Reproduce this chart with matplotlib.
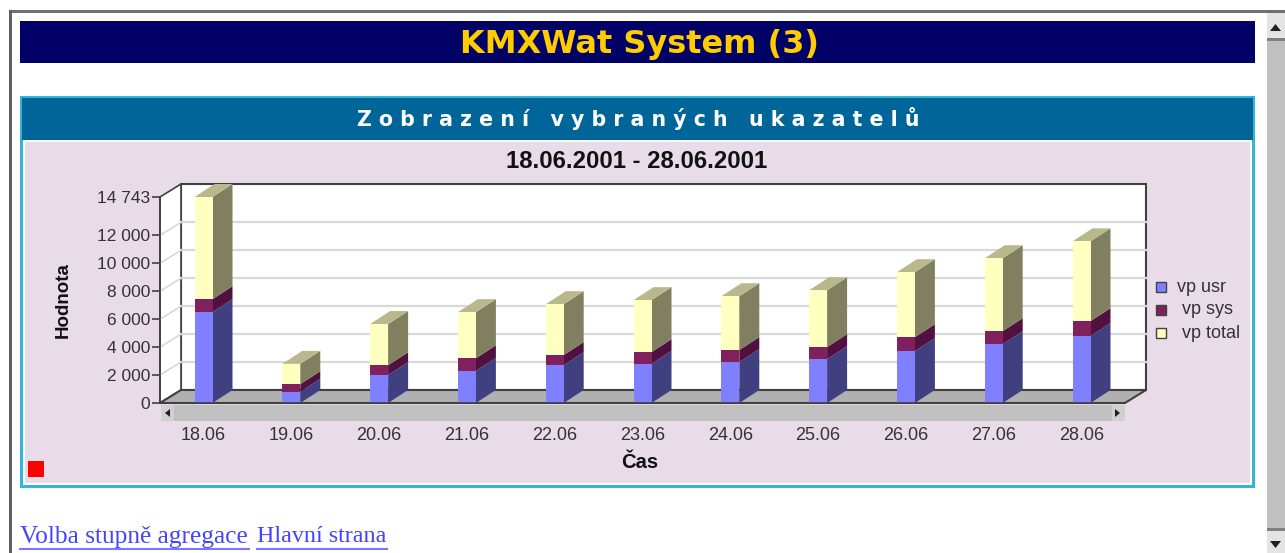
import matplotlib
matplotlib.use('Agg')
import matplotlib.pyplot as plt
from matplotlib.patches import Rectangle, Polygon

dates = ['18.06', '19.06', '20.06', '21.06', '22.06', '23.06', '24.06', '25.06', '26.06', '27.06', '28.06']
vp_usr = [6500, 800, 2000, 2300, 2700, 2800, 2930, 3140, 3710, 4210, 4790]
vp_sys = [930, 550, 700, 900, 730, 840, 860, 860, 1000, 930, 1070]
vp_total = [7313, 1450, 2950, 3300, 3640, 3720, 3850, 4070, 4650, 5220, 5710]
series_names = ['vp usr', 'vp sys', 'vp total']
yticks = [0, 2000, 4000, 6000, 8000, 10000, 12000, 14743]
yticklabels = ['0', '2 000', '4 000', '6 000', '8 000', '10 000', '12 000', '14 743']

W, H = 1285, 553
front = ['#8080ff', '#80205f', '#ffffc0']
side = ['#404080', '#501040', '#808060']
top_col = '#b8b88c'

fig = plt.figure(figsize=(W / 100, H / 100), dpi=100)
fig.patch.set_facecolor('white')

# page furniture, in pixel coordinates
bg = fig.add_axes([0, 0, 1, 1])
bg.set_xlim(0, W)
bg.set_ylim(H, 0)
bg.axis('off')


def box(x0, y0, x1, y1, color, **kw):
    bg.add_patch(Rectangle((x0, y0), x1 - x0, y1 - y0, facecolor=color, edgecolor='none', **kw))


box(9, 10, W, 13, '#707070')
box(9, 10, 12, H, '#606060')
box(1267, 13, W, H, '#c0c0c0')
box(1267, 13, W, 38, '#e4e4e4')
box(1267, 38, W, 41, '#808080')
box(1267, 528, W, 531, '#808080')
box(1267, 531, W, H, '#e4e4e4')
bg.add_patch(Polygon([(1270, 31), (1281, 31), (1275.5, 24)], facecolor='#202020'))
bg.add_patch(Polygon([(1270, 541), (1281, 541), (1275.5, 548)], facecolor='#202020'))

box(20, 21, 1255, 63, '#000066')
bg.text(639, 44, 'KMXWat System (3)', color='#ffcc00', fontsize=23, fontweight='bold',
        family='DejaVu Sans', ha='center', va='center')

box(20, 96, 1255, 488, '#33b5d8')
box(23, 99, 1252, 485, 'white')
box(22, 98, 1253, 140, '#006699')
box(25, 142, 1250, 483, '#e8dce8')
bg.text(638, 118, 'Z o b r a z e n í   v y b r a n ý c h   u k a z a t e l ů', color='white',
        fontsize=14.8, fontweight='bold', family='DejaVu Sans', ha='center', va='center')
bg.text(637, 161, '18.06.2001 - 28.06.2001', color='#111111', fontsize=17.2, fontweight='bold',
        family='Liberation Sans', ha='center', va='center')
box(28, 461, 44, 477, '#ff0000')

# chart scrollbar under the floor
box(161, 405, 1125, 421, '#c0c0c0')
box(161, 405, 174, 421, '#d0d0d0')
box(1112, 405, 1125, 421, '#d0d0d0')
bg.add_patch(Polygon([(170, 409), (170, 417), (165, 413)], facecolor='#202020'))
bg.add_patch(Polygon([(1115, 409), (1115, 417), (1120, 413)], facecolor='#202020'))

# legend
legend_x = [1177, 1182, 1182]
legend_y = [287, 310, 333]
for name, c, lx, ly in zip(series_names, front, legend_x, legend_y):
    bg.add_patch(Rectangle((1156, ly - 5), 10, 10, facecolor=c, edgecolor='#404040', lw=1))
    bg.text(lx, ly, name, fontsize=13, family='Liberation Sans', color='#333333', va='center')

# links
bg.text(20, 537, 'Volba stupně agregace', fontsize=18.3, family='Liberation Serif', color='#4444ff', va='center')
bg.text(257, 537, 'Hlavní strana', fontsize=17.3, family='Liberation Serif', color='#4444ff', va='center')
bg.plot([20, 249], [549, 549], color='#7777ff', lw=1.5)
bg.plot([257, 387], [549, 549], color='#7777ff', lw=1.5)

# chart: front plane 160..1125 px wide, 0 at y=403, 14743 at y=197
ax = fig.add_axes([160 / W, 1 - 403 / H, 965 / W, 206 / H])
ax.patch.set_alpha(0)
step = 87.8
ax.set_xlim((160 - 203.5) / step, (1125 - 203.5) / step)
ax.set_ylim(0, 14743)
dx = 21 / step
dy = 13 * 14743 / 206
x0, x1 = ax.get_xlim()
ytop = 14743

ax.add_patch(Polygon([(x0 + dx, dy), (x1 + dx, dy), (x1 + dx, ytop + dy), (x0 + dx, ytop + dy)],
                     facecolor='white', edgecolor='#404040', lw=1.5, clip_on=False, zorder=1))
ax.add_patch(Polygon([(x0, 0), (x0 + dx, dy), (x0 + dx, ytop + dy), (x0, ytop)],
                     facecolor='white', edgecolor='#404040', lw=1.2, clip_on=False, zorder=1))
ax.add_patch(Polygon([(x0, 0), (x1, 0), (x1 + dx, dy), (x0 + dx, dy)],
                     facecolor='#b0b0b0', edgecolor='#404040', lw=1.5, clip_on=False, zorder=2))
for t in yticks[1:-1]:
    ax.plot([x0 + dx, x1 + dx], [t + dy, t + dy], color='#d8d8d8', lw=1.6, clip_on=False, zorder=1.5)
    ax.plot([x0, x0 + dx], [t, t + dy], color='#d8d8d8', lw=1.2, clip_on=False, zorder=1.5)

bar_w = 18 / step
depth = 20 / step
positions = list(range(len(dates)))
stacks = [vp_usr, vp_sys, vp_total]
bottoms = [0] * len(dates)
for k, vals in enumerate(stacks):
    ax.bar(positions, vals, bar_w, bottom=bottoms, color=front[k], zorder=4)
    for i, (b, v) in enumerate(zip(bottoms, vals)):
        xr = i + bar_w / 2
        ax.add_patch(Polygon([(xr, b), (xr + depth, b + dy), (xr + depth, b + v + dy), (xr, b + v)],
                             facecolor=side[k], edgecolor='none', clip_on=False, zorder=3))
    bottoms = [b + v for b, v in zip(bottoms, vals)]
for i, b in enumerate(bottoms):
    xl, xr = i - bar_w / 2, i + bar_w / 2
    ax.add_patch(Polygon([(xl, b), (xr, b), (xr + depth, b + dy), (xl + depth, b + dy)],
                         facecolor=top_col, edgecolor='none', clip_on=False, zorder=3))

for s in ['top', 'right']:
    ax.spines[s].set_visible(False)
for s in ['left', 'bottom']:
    ax.spines[s].set_color('#404040')
    ax.spines[s].set_linewidth(1.2)
    ax.spines[s].set_zorder(5)
ax.set_xticks(positions)
ax.set_xticklabels(dates, fontsize=13, family='Liberation Sans', color='#333333')
ax.set_yticks(yticks)
ax.set_yticklabels(yticklabels, fontsize=12.5, family='Liberation Sans', color='#333333')
ax.tick_params(axis='x', length=0, pad=17)
ax.tick_params(axis='y', length=6, width=1.2, color='#404040', pad=1)

bg.text(640, 463, 'Čas', fontsize=14.5, fontweight='bold', family='Liberation Sans',
        color='#111111', ha='center', va='center')
bg.text(63, 300, 'Hodnota', fontsize=13.5, fontweight='bold', family='Liberation Sans',
        color='#111111', ha='center', va='center', rotation=90)

plt.savefig('out.png', dpi=100)
